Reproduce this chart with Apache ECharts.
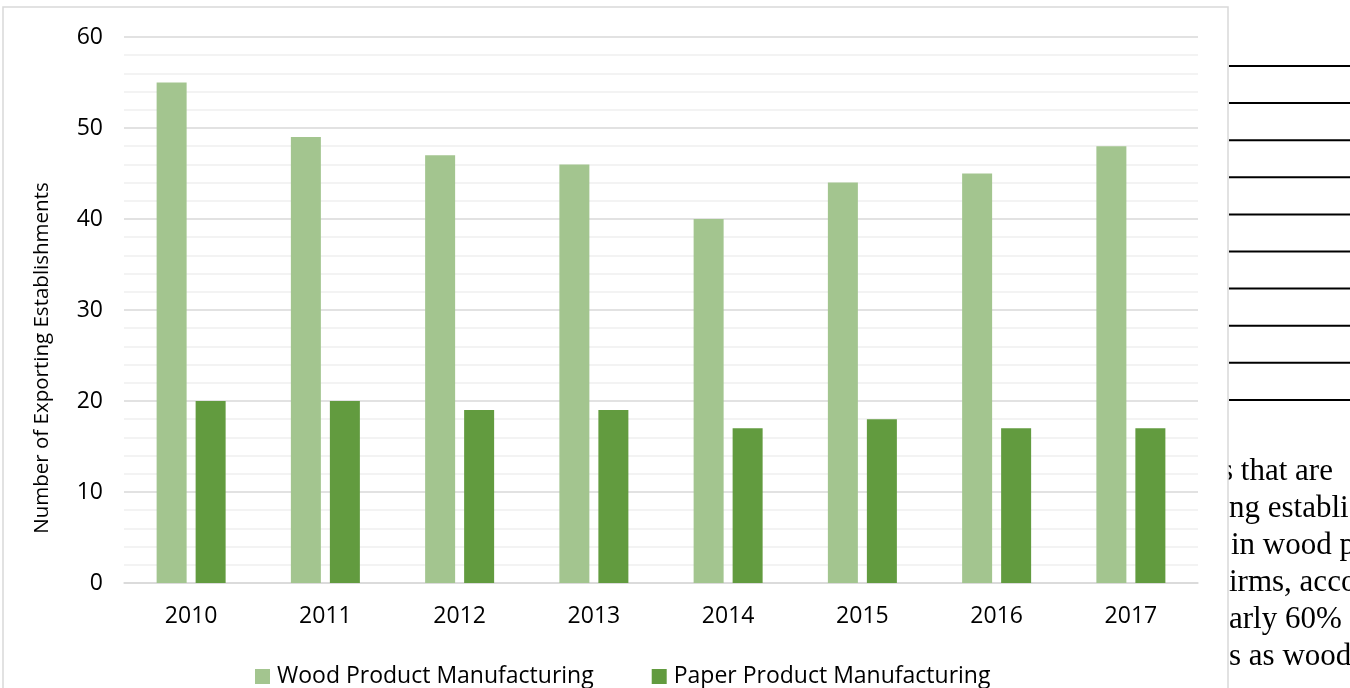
<!DOCTYPE html>
<html>
<head>
<meta charset="utf-8">
<script src="https://cdn.jsdelivr.net/npm/echarts@6/dist/echarts.min.js"></script>
<style>
  html, body { margin: 0; padding: 0; background: #fff; }
  #chart { width: 1350px; height: 688px; }
</style>
</head>
<body>
<div id="chart"></div>
<script>
// data
const years = ["2010", "2011", "2012", "2013", "2014", "2015", "2016", "2017"];
const woodProduct = [55, 49, 47, 46, 40, 44, 45, 48];
const paperProduct = [20, 20, 19, 19, 17, 18, 17, 17];
const seriesNames = ["Wood Product Manufacturing", "Paper Product Manufacturing"];
const yTitle = "Number of Exporting Establishments";

// bits of the page text that show next to the chart
const pageText = ["s that are", "ng establi", "in wood p", "irms, acco", "arly 60%", "s as wood"];

const font = "'Open Sans', sans-serif";
const lightGreen = "#a3c58f";
const darkGreen = "#629b3f";

const chart = echarts.init(document.getElementById("chart"));

const graphics = [];
// ruled lines of the page on the right
for (let i = 0; i < 10; i++) {
  const y = 66 + i * 37.1;
  graphics.push({
    type: "line", z: -2,
    shape: { x1: 1229, y1: y, x2: 1350, y2: y },
    style: { stroke: "#000", lineWidth: 2 }
  });
}
const textX = [1221, 1229, 1231, 1229, 1229, 1229];
pageText.forEach((t, i) => {
  graphics.push({
    type: "text", z: -2, x: textX[i], y: 482 + i * 37 - 10,
    style: {
      text: t, fill: "#000", font: "31px 'Liberation Serif', serif",
      align: "left", verticalAlign: "middle"
    }
  });
});
// chart panel with its light border, covering the page behind it
graphics.push({
  type: "rect", z: -1,
  shape: { x: 3, y: 7, width: 1225, height: 700 },
  style: { fill: "#fff", stroke: "#d9d9d9", lineWidth: 1.5 }
});
graphics.push({
  type: "text", x: 42, y: 358, rotation: Math.PI / 2,
  style: {
    text: yTitle, fill: "#000", font: "20.5px " + font,
    align: "center", verticalAlign: "middle"
  }
});

chart.setOption({
  animation: false,
  backgroundColor: "#fff",
  graphic: graphics,
  grid: { left: 124, right: 152, top: 37, bottom: 105 },
  legend: {
    left: 250,
    top: 660,
    itemWidth: 15,
    itemHeight: 15,
    itemGap: 58,
    icon: "rect",
    textStyle: { fontFamily: font, fontSize: 23, color: "#000", padding: [0, 0, 0, 2] },
    data: seriesNames
  },
  xAxis: {
    type: "category",
    data: years,
    axisTick: { show: false },
    axisLine: { lineStyle: { color: "#d9d9d9", width: 1.5 } },
    axisLabel: { fontFamily: font, fontSize: 23, color: "#000", margin: 22 }
  },
  yAxis: {
    type: "value",
    min: 0,
    max: 60,
    interval: 10,
    axisLine: { show: false },
    axisTick: { show: false },
    axisLabel: { fontFamily: font, fontSize: 23, color: "#000", margin: 21 },
    splitLine: { lineStyle: { color: "#d9d9d9", width: 1.5 } },
    minorTick: { show: false, splitNumber: 5 },
    minorSplitLine: { show: true, lineStyle: { color: "#f0f0f0", width: 1.5 } }
  },
  series: [
    {
      name: seriesNames[0],
      type: "bar",
      barWidth: 30,
      barGap: "30%",
      itemStyle: { color: lightGreen },
      data: woodProduct
    },
    {
      name: seriesNames[1],
      type: "bar",
      barWidth: 30,
      barGap: "30%",
      itemStyle: { color: darkGreen },
      data: paperProduct
    }
  ]
});
</script>
</body>
</html>
